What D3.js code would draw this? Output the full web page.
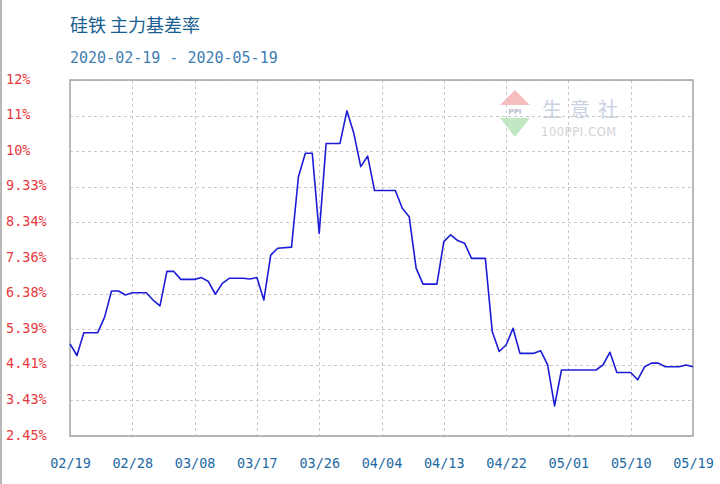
<!DOCTYPE html>
<html><head><meta charset="utf-8">
<script src="https://cdn.jsdelivr.net/npm/d3@7"></script>
<style>
html,body{margin:0;padding:0;background:#fff;}
svg{display:block;}
</style>
</head><body>
<div id="chart"></div>
<script>
const titleText = "硅铁 主力基差率";
const subtitleText = "2020-02-19 - 2020-05-19";

const dates = ["2020-02-19","2020-02-20","2020-02-21","2020-02-23","2020-02-24","2020-02-25","2020-02-26","2020-02-27","2020-02-28",
"2020-03-01","2020-03-02","2020-03-03","2020-03-04","2020-03-05","2020-03-06","2020-03-08","2020-03-09","2020-03-10","2020-03-11",
"2020-03-12","2020-03-13","2020-03-15","2020-03-16","2020-03-17","2020-03-18","2020-03-19","2020-03-20","2020-03-22","2020-03-23",
"2020-03-24","2020-03-25","2020-03-26","2020-03-27","2020-03-29","2020-03-30","2020-03-31","2020-04-01","2020-04-02","2020-04-03",
"2020-04-06","2020-04-07","2020-04-08","2020-04-09","2020-04-10","2020-04-12","2020-04-13","2020-04-14","2020-04-15","2020-04-16",
"2020-04-17","2020-04-19","2020-04-20","2020-04-21","2020-04-22","2020-04-23","2020-04-24","2020-04-26","2020-04-27","2020-04-28",
"2020-04-29","2020-04-30","2020-05-05","2020-05-06","2020-05-07","2020-05-08","2020-05-10","2020-05-11","2020-05-12","2020-05-13",
"2020-05-14","2020-05-15","2020-05-17","2020-05-18","2020-05-19"];
const values = [4.99,4.67,5.30,5.30,5.73,6.45,6.45,6.34,6.40,
6.40,6.20,6.04,6.99,6.99,6.77,6.77,6.82,6.71,6.36,
6.66,6.80,6.80,6.78,6.82,6.20,7.44,7.63,7.66,9.60,
10.25,10.25,8.04,10.52,10.52,11.42,10.80,9.88,10.17,9.22,
9.22,8.73,8.50,7.08,6.64,6.64,7.81,8.00,7.84,7.77,
7.35,7.35,5.33,4.78,4.96,5.42,4.73,4.73,4.80,4.41,
3.28,4.27,4.27,4.41,4.76,4.20,4.20,4.00,4.36,4.46,
4.46,4.36,4.36,4.41,4.36];

const xTickDates = ["2020-02-19","2020-02-28","2020-03-08","2020-03-17","2020-03-26","2020-04-04","2020-04-13","2020-04-22","2020-05-01","2020-05-10","2020-05-19"];
const yTickValues = [2.45,3.43,4.41,5.39,6.38,7.36,8.34,9.33,10.31,11.29,12.27];
const yTickLabels = ["2.45%","3.43%","4.41%","5.39%","6.38%","7.36%","8.34%","9.33%","10%","11%","12%"];

const W = 720, H = 484;
const plot = {left:70, right:693, top:80, bottom:436};
const parse = d3.timeParse("%Y-%m-%d");
const fmtX = d3.timeFormat("%m/%d");

const data = dates.map((d,i)=>({date:parse(d), value:values[i]}));

const x = d3.scaleTime().domain([parse(xTickDates[0]), parse(xTickDates[xTickDates.length-1])]).range([plot.left, plot.right]);
const y = d3.scaleLinear().domain([yTickValues[0], yTickValues[yTickValues.length-1]]).range([plot.bottom, plot.top]);

const svg = d3.select("#chart").append("svg").attr("width",W).attr("height",H);

// left image edge line
svg.append("line").attr("x1",1).attr("x2",1).attr("y1",0).attr("y2",H).attr("stroke","#b8b8b8").attr("stroke-width",2);

// title
svg.append("text").attr("x",70).attr("y",24).attr("dominant-baseline","central")
  .attr("font-family","'Noto Sans CJK SC', sans-serif").attr("font-size",18).attr("fill","#17608f").text(titleText);
svg.append("text").attr("x",70).attr("y",57.5).attr("dominant-baseline","central")
  .attr("font-family","'DejaVu Sans Mono', monospace").attr("font-size",15).attr("fill","#3f80b2").text(subtitleText);

// watermark
const wm = svg.append("g").attr("opacity",0.75);
wm.append("path").attr("d","M515,90 L530,105 L500,105 Z").attr("fill","#f2a9a6");
wm.append("path").attr("d","M500,118 L530,118 L515,137 Z").attr("fill","#aee0b0");
wm.append("text").attr("x",515).attr("y",112).attr("text-anchor","middle").attr("dominant-baseline","central")
  .attr("font-family","'DejaVu Sans', sans-serif").attr("font-size",7).attr("font-weight","bold").attr("fill","#a0a8b8").text("PPI");
wm.append("text").attr("x",542).attr("y",108).attr("dominant-baseline","central")
  .attr("font-family","'Noto Sans CJK SC', sans-serif").attr("font-size",20).attr("letter-spacing",8).attr("fill","#b9c4d9").text("生意社");
wm.append("text").attr("x",541).attr("y",132).attr("dominant-baseline","central")
  .attr("font-family","'DejaVu Sans', sans-serif").attr("font-size",11.5).attr("letter-spacing",0.6).attr("fill","#c4c4c4").text("100PPI.COM");

// grid
const grid = svg.append("g");
grid.selectAll(".hg").data(yTickValues).enter().append("line")
  .attr("x1",plot.left).attr("x2",plot.right).attr("y1",d=>Math.round(y(d))+0.5).attr("y2",d=>Math.round(y(d))+0.5)
  .attr("stroke","#c8c8c8").attr("stroke-width",1).attr("stroke-dasharray","3,3");
grid.selectAll(".vg").data(xTickDates.slice(1,-1)).enter().append("line")
  .attr("x1",d=>Math.round(x(parse(d)))+0.5).attr("x2",d=>Math.round(x(parse(d)))+0.5).attr("y1",plot.top).attr("y2",plot.bottom)
  .attr("stroke","#c8c8c8").attr("stroke-width",1).attr("stroke-dasharray","3,3");

// border
svg.append("rect").attr("x",plot.left).attr("y",plot.top).attr("width",plot.right-plot.left).attr("height",plot.bottom-plot.top)
  .attr("fill","none").attr("stroke","#a8a8a8").attr("stroke-width",1.6);

// axes
const xAxis = d3.axisBottom(x).tickValues(xTickDates.map(parse)).tickFormat(fmtX).tickSize(0).tickPadding(0);
const gx = svg.append("g").attr("transform",`translate(0,${plot.bottom})`).call(xAxis);
gx.select(".domain").remove();
gx.selectAll("text").attr("y",27).attr("dy",0).attr("dominant-baseline","central")
  .attr("font-family","'DejaVu Sans Mono', monospace").attr("font-size",13.5).attr("fill","#1d6aa3");

const yAxis = d3.axisLeft(y).tickValues(yTickValues).tickFormat((d,i)=>yTickLabels[i]).tickSize(0).tickPadding(0);
const gy = svg.append("g").attr("transform",`translate(0,0)`).call(yAxis);
gy.select(".domain").remove();
gy.selectAll("text").attr("x",6).attr("dy",0).attr("text-anchor","start").attr("dominant-baseline","central")
  .attr("transform","translate(0,-2)")
  .attr("font-family","'DejaVu Sans Mono', monospace").attr("font-size",13.5).attr("fill","#e8383d");

// line
const line = d3.line().x(d=>x(d.date)).y(d=>y(d.value));
svg.append("path").datum(data).attr("d",line).attr("fill","none").attr("stroke","#1c1cd6").attr("stroke-width",1.6)
  .attr("stroke-linejoin","round");
</script>
</body></html>
